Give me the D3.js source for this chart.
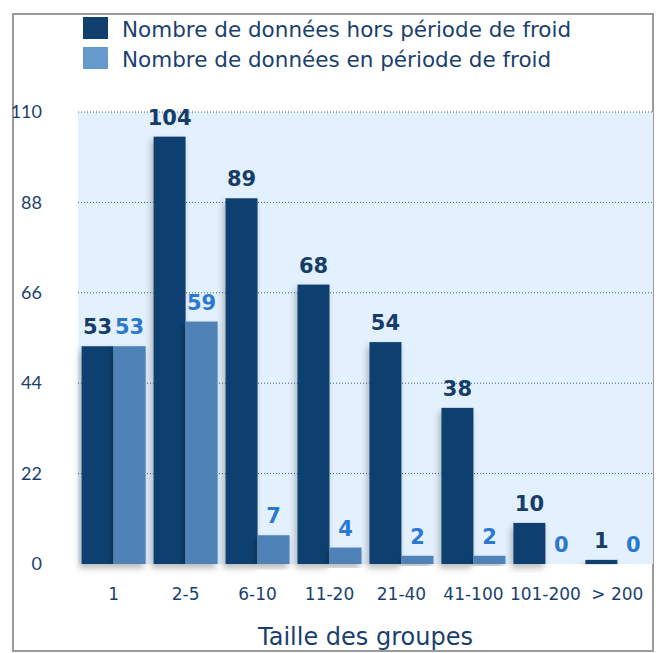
<!DOCTYPE html>
<html>
<head>
<meta charset="utf-8">
<script src="https://cdn.jsdelivr.net/npm/d3@7"></script>
<style>
  body { margin: 0; background: #fff; }
  svg { display: block; font-family: "DejaVu Sans", sans-serif; }
</style>
</head>
<body>
<svg id="chart"></svg>
<script>
"use strict";

// data
const categories = ["1", "2-5", "6-10", "11-20", "21-40", "41-100", "101-200", "> 200"];
const horsFroid = [53, 104, 89, 68, 54, 38, 10, 1];
const enFroid = [53, 59, 7, 4, 2, 2, 0, 0];
const yTicks = [0, 22, 44, 66, 88, 110];
const seriesNames = ["Nombre de données hors période de froid", "Nombre de données en période de froid"];

const WIDTH = 661;
const HEIGHT = 653;
const DARK = "#11406f";
const LIGHT = "#4f83b8";
const TEXT = "#1a3f6e";

const svg = d3.select("#chart")
  .attr("width", WIDTH)
  .attr("height", HEIGHT);

// drop shadow for bars
const defs = svg.append("defs");
const shadow = defs.append("filter")
  .attr("id", "shadow")
  .attr("x", "-30%").attr("y", "-10%")
  .attr("width", "160%").attr("height", "130%");
shadow.append("feDropShadow")
  .attr("dx", -2).attr("dy", 4)
  .attr("stdDeviation", 3)
  .attr("flood-color", "#000")
  .attr("flood-opacity", 0.28);

// outer frame
svg.append("rect")
  .attr("x", 13).attr("y", 14)
  .attr("width", 640).attr("height", 637)
  .attr("fill", "none")
  .attr("stroke", "#9a9a9a")
  .attr("stroke-width", 2);

const plotLeft = 78, plotRight = 653, plotTop = 112, plotBottom = 564;

const x0 = d3.scaleBand()
  .domain(categories)
  .range([plotLeft, plotRight])
  .paddingInner(0.11)
  .paddingOuter(0.05);

const x1 = d3.scaleBand()
  .domain(["hors", "en"])
  .range([0, x0.bandwidth()]);

const y = d3.scaleLinear()
  .domain([0, 110])
  .range([plotBottom, plotTop]);

// plot background
svg.append("rect")
  .attr("x", plotLeft).attr("y", plotTop)
  .attr("width", plotRight - plotLeft).attr("height", plotBottom - plotTop)
  .attr("fill", "#e3f0fd");

// dotted grid lines
svg.append("g")
  .selectAll("line")
  .data(yTicks.filter(d => d > 0))
  .enter()
  .append("line")
  .attr("x1", plotLeft).attr("x2", plotRight)
  .attr("y1", d => y(d)).attr("y2", d => y(d))
  .attr("stroke", "#3d5f8a")
  .attr("stroke-width", 1)
  .attr("stroke-dasharray", "1,2");

// y axis labels
const yAxis = d3.axisLeft(y).tickValues(yTicks).tickSize(0).tickPadding(0);
const gy = svg.append("g")
  .attr("transform", "translate(42,0)")
  .call(yAxis);
gy.select(".domain").remove();
gy.selectAll("text")
  .attr("fill", TEXT)
  .attr("font-family", "Lato, sans-serif")
  .attr("font-size", 18);

// x axis labels
const xAxis = d3.axisBottom(x0).tickSize(0).tickPadding(0);
const gx = svg.append("g")
  .attr("transform", "translate(0,600)")
  .call(xAxis);
gx.select(".domain").remove();
gx.selectAll("text")
  .attr("dy", 0)
  .attr("fill", TEXT)
  .attr("font-family", "DejaVu Sans, sans-serif")
  .attr("font-size", 17);

// bars
const groups = svg.append("g")
  .selectAll("g")
  .data(categories)
  .enter()
  .append("g")
  .attr("transform", d => "translate(" + x0(d) + ",0)");

groups.append("rect")
  .attr("x", x1("hors"))
  .attr("y", (d, i) => y(horsFroid[i]))
  .attr("width", x1.bandwidth())
  .attr("height", (d, i) => y(0) - y(horsFroid[i]))
  .attr("fill", DARK)
  .attr("filter", "url(#shadow)");

groups.append("rect")
  .attr("x", x1("en"))
  .attr("y", (d, i) => y(enFroid[i]))
  .attr("width", x1.bandwidth())
  .attr("height", (d, i) => y(0) - y(enFroid[i]))
  .attr("fill", LIGHT)
  .attr("filter", "url(#shadow)");

// value labels
groups.append("text")
  .attr("x", x1("hors") + x1.bandwidth() / 2)
  .attr("y", (d, i) => y(horsFroid[i]) - 12)
  .attr("text-anchor", "middle")
  .attr("font-size", 21)
  .attr("font-weight", "bold")
  .attr("fill", "#163c68")
  .text((d, i) => horsFroid[i]);

groups.append("text")
  .attr("x", x1("en") + x1.bandwidth() / 2)
  .attr("y", (d, i) => y(enFroid[i]) - 12)
  .attr("text-anchor", "middle")
  .attr("font-size", 21)
  .attr("font-weight", "bold")
  .attr("fill", "#2a78cf")
  .text((d, i) => enFroid[i]);

// axis title
svg.append("text")
  .attr("x", (plotLeft + plotRight) / 2)
  .attr("y", 645)
  .attr("text-anchor", "middle")
  .attr("font-size", 24)
  .attr("fill", TEXT)
  .text("Taille des groupes");

// legend
const legend = svg.append("g")
  .selectAll("g")
  .data(seriesNames)
  .enter()
  .append("g")
  .attr("transform", (d, i) => "translate(83," + (17 + i * 30) + ")");

legend.append("rect")
  .attr("width", 25)
  .attr("height", 22)
  .attr("fill", (d, i) => i === 0 ? DARK : "#6699cc");

legend.append("text")
  .attr("x", 39)
  .attr("y", 20)
  .attr("font-size", 21.5)
  .attr("fill", TEXT)
  .text(d => d);
</script>
</body>
</html>
